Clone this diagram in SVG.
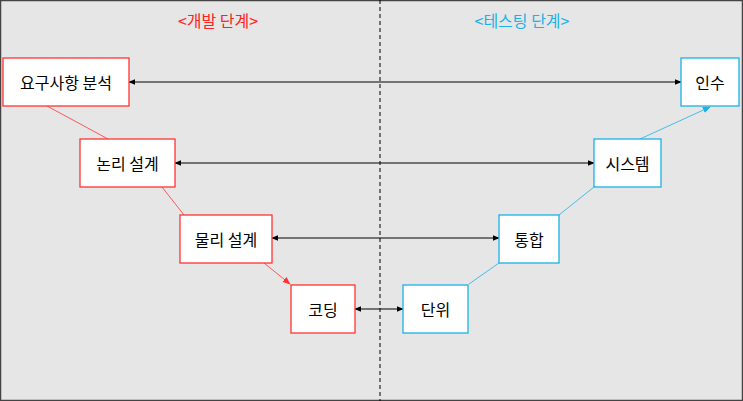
<svg xmlns="http://www.w3.org/2000/svg" width="743" height="401" viewBox="0 0 743 401">
<style>
text{font-family:"Noto Sans CJK KR","Noto Sans",sans-serif;font-size:16px;text-anchor:middle;dominant-baseline:central;fill:#000}
.r{fill:#fff;stroke:#ff3333;stroke-width:1.3}
.b{fill:#fff;stroke:#1ab2e8;stroke-width:1.3}
.h{stroke:#000;stroke-width:1.2;fill:none;marker-start:url(#ak);marker-end:url(#ak)}
</style>
<defs>
<marker id="ak" viewBox="0 0 10 10" refX="9" refY="5" markerWidth="7" markerHeight="7" orient="auto-start-reverse" markerUnits="userSpaceOnUse"><path d="M0,1 L10,5 L0,9z" fill="#000"/></marker>
<marker id="ar" viewBox="0 0 10 10" refX="9" refY="5" markerWidth="8" markerHeight="8" orient="auto" markerUnits="userSpaceOnUse"><path d="M0,1 L10,5 L0,9z" fill="#ff3333"/></marker>
<marker id="ab" viewBox="0 0 10 10" refX="9" refY="5" markerWidth="8" markerHeight="8" orient="auto" markerUnits="userSpaceOnUse"><path d="M0,1 L10,5 L0,9z" fill="#1ab2e8"/></marker>
</defs>
<rect x="0.5" y="0.5" width="742" height="400" fill="#e6e6e6" stroke="#444" stroke-width="1.5"/>
<line x1="380" y1="0" x2="380" y2="401" stroke="#000" stroke-dasharray="4,3"/>
<text x="218" y="20" style="fill:#ff2222">&lt;개발 단계&gt;</text>
<text x="522" y="20" style="fill:#1ab2e8">&lt;테스팅 단계&gt;</text>
<g id="connectors">
<line x1="47" y1="106" x2="108" y2="139" stroke="#ff3333" stroke-width="0.8"/>
<line x1="162" y1="187" x2="184" y2="215" stroke="#ff3333" stroke-width="0.8"/>
<line x1="264" y1="263" x2="290" y2="284" stroke="#ff3333" stroke-width="0.8" marker-end="url(#ar)"/>
<line x1="469" y1="284" x2="499" y2="263" stroke="#1ab2e8" stroke-width="0.8"/>
<line x1="559" y1="215" x2="594" y2="187" stroke="#1ab2e8" stroke-width="0.8"/>
<line x1="640" y1="139" x2="710" y2="107" stroke="#1ab2e8" stroke-width="0.8" marker-end="url(#ab)"/>
<line class="h" x1="129" y1="82" x2="681" y2="82"/>
<line class="h" x1="175" y1="163" x2="594" y2="163"/>
<line class="h" x1="272" y1="238" x2="499" y2="238"/>
<line class="h" x1="355" y1="309" x2="403" y2="309"/>
</g>
<g id="n1"><rect class="r" x="3" y="58" width="126" height="48"/><text x="66" y="82">요구사항 분석</text></g>
<g id="n2"><rect class="r" x="80" y="139" width="95" height="48"/><text x="127.5" y="163">논리 설계</text></g>
<g id="n3"><rect class="r" x="180" y="215" width="92" height="48"/><text x="226" y="239">물리 설계</text></g>
<g id="n4"><rect class="r" x="291" y="285" width="64" height="48"/><text x="323" y="309">코딩</text></g>
<g id="n5"><rect class="b" x="403" y="285" width="65" height="48"/><text x="435.5" y="309">단위</text></g>
<g id="n6"><rect class="b" x="499" y="215" width="60" height="48"/><text x="529" y="239">통합</text></g>
<g id="n7"><rect class="b" x="594" y="139" width="67" height="48"/><text x="627.5" y="163">시스템</text></g>
<g id="n8"><rect class="b" x="681" y="58" width="58" height="48"/><text x="710" y="82">인수</text></g>
</svg>
